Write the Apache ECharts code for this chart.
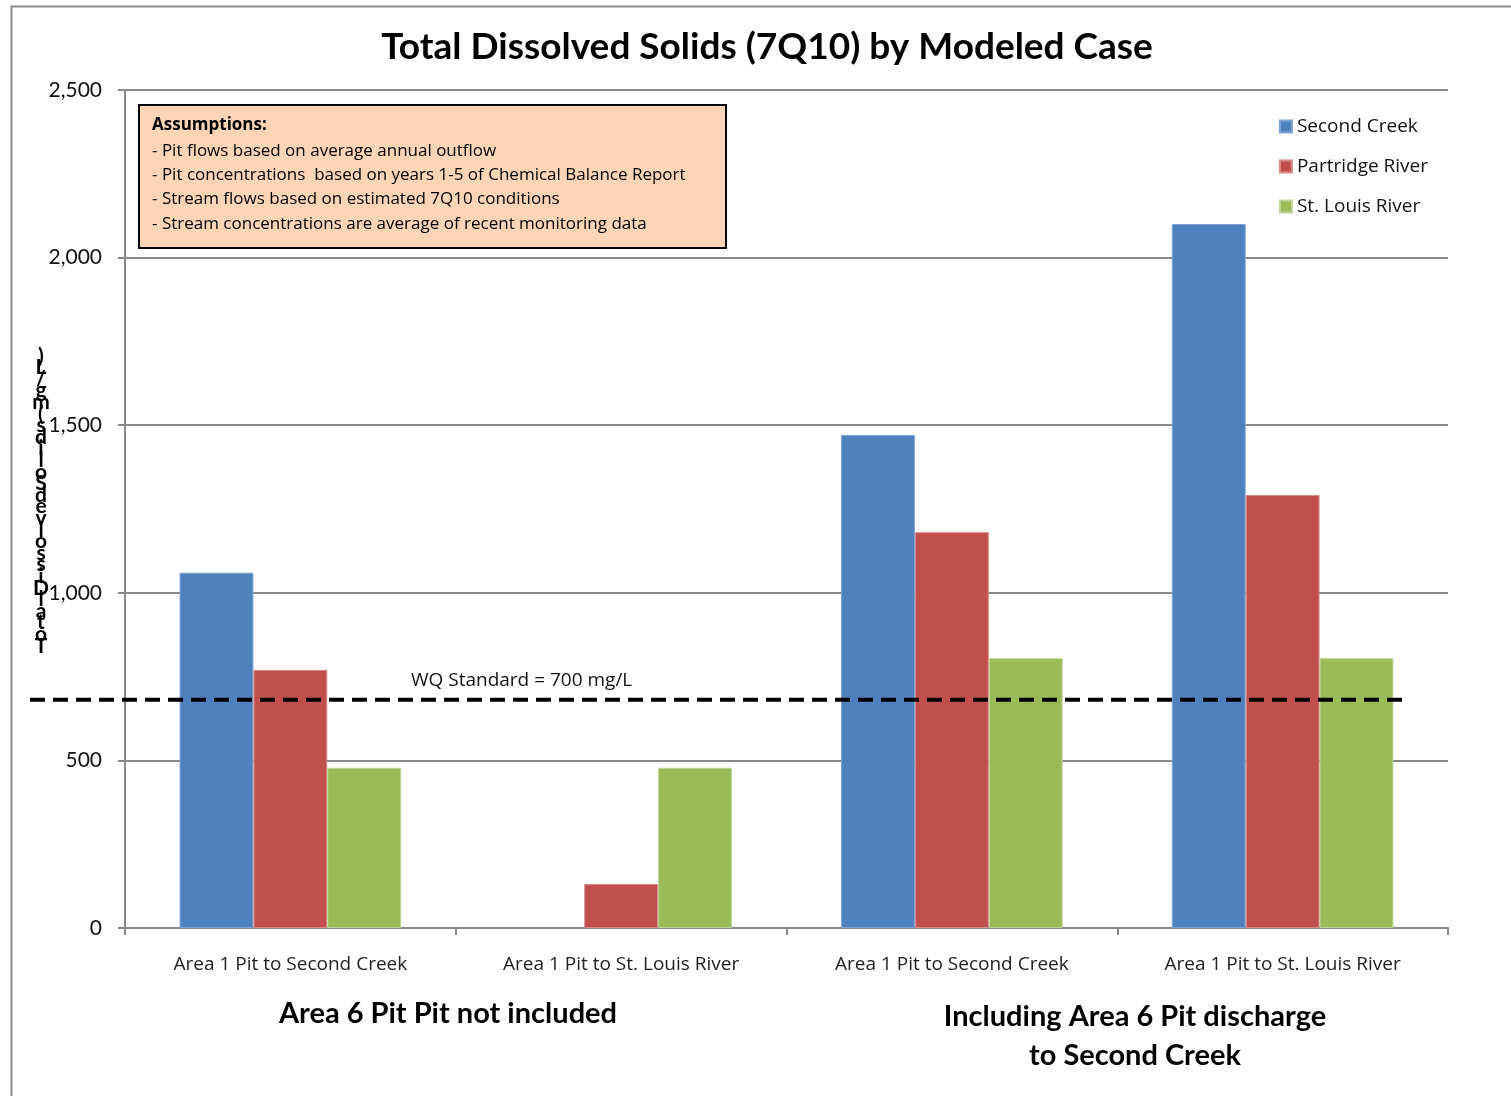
<!DOCTYPE html>
<html><head><meta charset="utf-8">
<script src="https://cdn.jsdelivr.net/npm/echarts@6/dist/echarts.min.js"></script>
<style>html,body{margin:0;padding:0;background:#fff}#c{width:1511px;height:1096px}</style>
</head><body><div id="c"></div>
<script>
const categories = ["Area 1 Pit to Second Creek", "Area 1 Pit to St. Louis River", "Area 1 Pit to Second Creek", "Area 1 Pit to St. Louis River"];
const secondCreek = [1060, null, 1471, 2100];
const partridgeRiver = [770, 131, 1181, 1292];
const stLouisRiver = [478, 478, 805, 805];
const wqStandard = 681;
const yTicks = [0, 500, 1000, 1500, 2000, 2500];
const groupLabels = ["Area 6 Pit Pit not included", "Including Area 6 Pit discharge\nto Second Creek"];
const assumptions = ["Assumptions:", "- Pit flows based on average annual outflow", "- Pit concentrations  based on years 1-5 of Chemical Balance Report", "- Stream flows based on estimated 7Q10 conditions", "- Stream concentrations are average of recent monitoring data"];
const yAxisTitle = "Total Dissolved Solids (mg/L)";

const FONT = "Lato";
const FONT2 = "Open Sans";
const chart = echarts.init(document.getElementById('c'), null, {renderer: 'canvas'});
const yTitleStacked = yAxisTitle.replace(/ /g, '').split('').reverse().join('\n');

chart.setOption({
  animation: false,
  textStyle: {fontFamily: FONT},
  title: {text: "Total Dissolved Solids (7Q10) by Modeled Case", left: 762, textAlign: 'center', top: 24,
    textStyle: {fontFamily: FONT, fontWeight: 'bold', fontSize: 37, color: '#000'}},
  legend: {orient: 'vertical', right: 78, top: 112, itemWidth: 12, itemHeight: 12, itemGap: 21,
    icon: 'rect', textStyle: {fontFamily: FONT2, fontSize: 19, color: '#111'},
    data: ['Second Creek', 'Partridge River', 'St. Louis River']},
  grid: [
    {left: 125, right: 63, top: 90, bottom: 168},
    {left: 30, right: 101, top: 90, bottom: 168}
  ],
  xAxis: [
    {type: 'category', gridIndex: 0, data: categories,
      axisLine: {lineStyle: {color: '#888', width: 2}},
      axisTick: {show: true, length: 7, lineStyle: {color: '#888', width: 2}},
      axisLabel: {fontFamily: FONT2, fontSize: 19, color: '#222', margin: 27}},
    {type: 'value', gridIndex: 1, min: 0, max: 1, show: false}
  ],
  yAxis: [
    {type: 'value', gridIndex: 0, min: 0, max: 2500, interval: 500,
      axisLine: {show: true, lineStyle: {color: '#888', width: 2}},
      axisTick: {show: true, length: 7, lineStyle: {color: '#888', width: 2}},
      axisLabel: {fontFamily: FONT, fontSize: 21, color: '#111', margin: 23,
        formatter: v => yTicks.includes(v) ? v.toLocaleString('en-US') : ''},
      splitLine: {lineStyle: {color: '#888', width: 2}}},
    {type: 'value', gridIndex: 1, min: 0, max: 2500, show: false}
  ],
  series: [
    {name: 'Second Creek', type: 'bar', data: secondCreek, barGap: '0%', barCategoryGap: '33%',
      itemStyle: {color: '#4F81BD', borderColor: '#7FA3D3', borderWidth: 1}},
    {name: 'Partridge River', type: 'bar', data: partridgeRiver, barGap: '0%', barCategoryGap: '33%',
      itemStyle: {color: '#C0504D', borderColor: '#D88B89', borderWidth: 1}},
    {name: 'St. Louis River', type: 'bar', data: stLouisRiver, barGap: '0%', barCategoryGap: '33%',
      itemStyle: {color: '#9BBB59', borderColor: '#BED49A', borderWidth: 1}},
    {name: 'WQ', type: 'line', xAxisIndex: 1, yAxisIndex: 1, data: [[0, wqStandard], [1, wqStandard]],
      symbol: 'none', z: 5, lineStyle: {color: '#000', width: 4, type: [15, 8]}}
  ],
  graphic: [
    {type: 'rect', left: 9, top: 4, z: -10, silent: true, shape: {width: 1530, height: 1120},
      style: {fill: 'none', stroke: '#888', lineWidth: 2}},
    {type: 'rect', left: 138, top: 104, z: 10, shape: {width: 587, height: 143},
      style: {fill: '#FBD5B5', stroke: '#000', lineWidth: 2}},
    {type: 'text', left: 152, top: 117, z: 11, style: {text: assumptions[0], fontFamily: FONT2, fontWeight: 'bold', fontSize: 17, fill: '#000'}},
    {type: 'text', left: 152, top: 139, z: 11, style: {text: assumptions.slice(1).join('\n'), fontFamily: FONT2, fontSize: 17, lineHeight: 24.2, fill: '#000'}},
    {type: 'text', left: 411, top: 671, z: 11, style: {text: "WQ Standard = 700 mg/L", fontFamily: FONT2, fontSize: 19, fill: '#111'}},
    {type: 'text', x: 448, y: 999, style: {text: groupLabels[0], align: 'center', fontFamily: FONT, fontWeight: 'bold', fontSize: 29, fill: '#000'}},
    {type: 'text', x: 1135, y: 997, style: {text: groupLabels[1], align: 'center', fontFamily: FONT, fontWeight: 'bold', fontSize: 29, lineHeight: 39, fill: '#000'}},
    {type: 'text', x: 41, y: 350, style: {text: yTitleStacked, align: 'center', fontFamily: FONT, fontWeight: 'bold', fontSize: 21, lineHeight: 11.6, fill: '#000'}}
  ]
});
</script></body></html>
